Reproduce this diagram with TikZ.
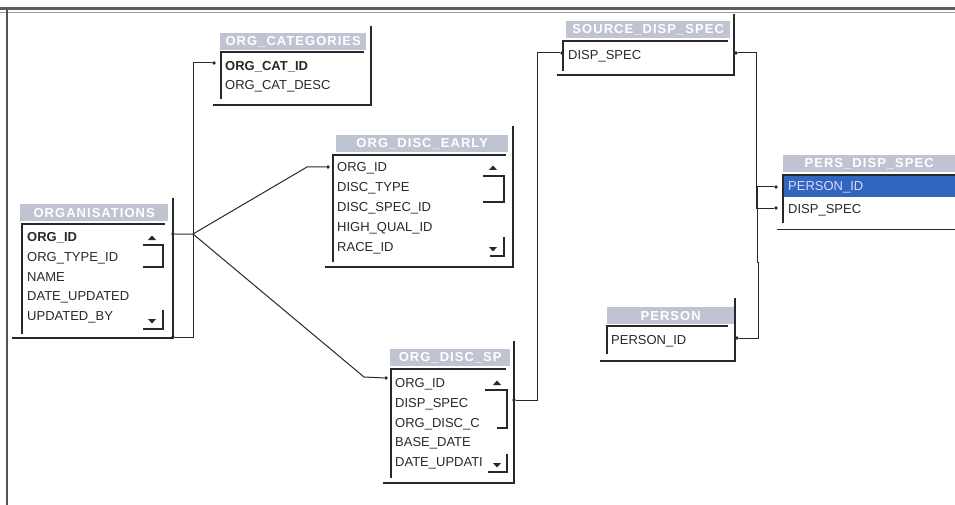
\documentclass[tikz,border=0pt]{standalone}
\usepackage{fontspec}
\setmainfont{Liberation Sans}
\newfontfamily\titlefont[LetterSpace=8]{Liberation Sans}
\definecolor{titlebg}{RGB}{192,196,210}
\definecolor{hilite}{RGB}{50,102,190}
\definecolor{ink}{RGB}{40,40,40}
\begin{document}
\begin{tikzpicture}[x=1pt,y=-1pt,
 titlebar/.style={fill=titlebg, anchor=north west, inner sep=0pt, minimum height=17pt, text=white, font=\titlefont\bfseries\fontsize{13}{13}\selectfont},
 field/.style={anchor=west, inner sep=0pt, text=ink, font=\fontsize{13}{13}\selectfont},
 keyfield/.style={field, font=\bfseries\fontsize{13}{13}\selectfont},
 boxline/.style={draw=ink, line width=1.2pt},
 frameline/.style={draw=ink, line width=1.5pt},
 link/.style={draw=ink, line width=1pt},
 pindot/.style={circle, fill=ink, inner sep=0pt, minimum size=3.6pt},
 sbline/.style={draw=ink, line width=1.1pt},
 sbarrow/.style={fill=ink}
]
\useasboundingbox (0,0) rectangle (955,505);
% outer window frame
\draw[ink!75, line width=2.2pt] (0,8.5) -- (955,8.5);
\draw[ink!45, line width=0.8pt] (0,12) -- (955,12);
\draw[ink!80, line width=1.2pt] (7,9) -- (7,505);

% ---------- ORGANISATIONS ----------
\node[titlebar, minimum width=148] (t-org) at (20,204) {ORGANISATIONS};
\draw[boxline] (22,334) -- (22,224) -- (165,224);
\draw[frameline] (173,198) -- (173,338) -- (12,338);
\node[keyfield] (org-1) at (27,238) {ORG\_ID};
\node[field] (org-2) at (27,258) {ORG\_TYPE\_ID};
\node[field] (org-3) at (27,277) {NAME};
\node[field] (org-4) at (27,297) {DATE\_UPDATED};
\node[field] (org-5) at (27,317) {UPDATED\_BY};
\fill[sbarrow] (148,240) -- (156,240) -- (152,235.5) -- cycle;
\draw[sbline] (143,245) -- (163,245) -- (163,267) -- (143,267);
\fill[sbarrow] (148,319) -- (156,319) -- (152,323.5) -- cycle;
\draw[sbline] (163,310) -- (163,329) -- (143,329);
\node[pindot] (p-org-1) at (173,234) {};
\node[pindot] (p-org-2) at (173,337) {};

% ---------- ORG_CATEGORIES ----------
\node[titlebar, minimum width=146] (t-cat) at (220,33) {ORG\_CATEGORIES};
\draw[boxline] (221,99) -- (221,52) -- (364,52);
\draw[frameline] (371,26) -- (371,105) -- (213,105);
\node[keyfield] (cat-1) at (225,67) {ORG\_CAT\_ID};
\node[field] (cat-2) at (225,86) {ORG\_CAT\_DESC};
\node[pindot] (p-cat-1) at (214,63) {};

% ---------- ORG_DISC_EARLY ----------
\node[titlebar, minimum width=172] (t-de) at (336,135) {ORG\_DISC\_EARLY};
\draw[boxline] (333,262) -- (333,155) -- (506,155);
\draw[frameline] (513,126) -- (513,267) -- (325,267);
\node[field] (de-1) at (337,168) {ORG\_ID};
\node[field] (de-2) at (337,188) {DISC\_TYPE};
\node[field] (de-3) at (337,208) {DISC\_SPEC\_ID};
\node[field] (de-4) at (337,228) {HIGH\_QUAL\_ID};
\node[field] (de-5) at (337,248) {RACE\_ID};
\fill[sbarrow] (489,170) -- (497,170) -- (493,165.5) -- cycle;
\draw[sbline] (483,176) -- (504,176) -- (504,202) -- (483,202);
\fill[sbarrow] (489,247) -- (497,247) -- (493,251.5) -- cycle;
\draw[sbline] (504,237) -- (504,256) -- (490,256);
\node[pindot] (p-de-1) at (328,167) {};

% ---------- ORG_DISC_SP ----------
\node[titlebar, minimum width=120] (t-ds) at (390,349) {ORG\_DISC\_SP};
\draw[boxline] (391,478) -- (391,369) -- (506,369);
\draw[frameline] (514,341) -- (514,483) -- (383,483);
\node[field] (ds-1) at (395,384) {ORG\_ID};
\node[field] (ds-2) at (395,404) {DISP\_SPEC};
\node[field] (ds-3) at (395,424) {ORG\_DISC\_C};
\node[field] (ds-4) at (395,443) {BASE\_DATE};
\node[field] (ds-5) at (395,463) {DATE\_UPDATI};
\fill[sbarrow] (493,385) -- (501,385) -- (497,380.5) -- cycle;
\draw[sbline] (485,390) -- (507,390) -- (507,428) -- (497,428);
\fill[sbarrow] (493,463) -- (501,463) -- (497,467.5) -- cycle;
\draw[sbline] (507,454) -- (507,472) -- (488,472);
\node[pindot] (p-ds-1) at (386,378) {};
\node[pindot] (p-ds-2) at (514,400) {};

% ---------- SOURCE_DISP_SPEC ----------
\node[titlebar, minimum width=164] (t-src) at (566,21) {SOURCE\_DISP\_SPEC};
\draw[boxline] (563,71) -- (563,41) -- (728,41);
\draw[frameline] (734,14) -- (734,75) -- (557,75);
\node[field] (src-1) at (568,56) {DISP\_SPEC};
\node[pindot] (p-src-1) at (562,53) {};
\node[pindot] (p-src-2) at (736,53) {};

% ---------- PERS_DISP_SPEC ----------
\node[titlebar, minimum width=172] (t-pd) at (783,155) {PERS\_DISP\_SPEC};
\fill[hilite] (784,176) rectangle (955,197);
\draw[boxline] (783,223) -- (783,175) -- (955,175);
\draw[frameline] (777,229.5) -- (955,229.5);
\node[field, text=blue!15!white] (pd-1) at (788,187) {PERSON\_ID};
\node[field] (pd-2) at (788,210) {DISP\_SPEC};
\node[pindot] (p-pd-1) at (776,187) {};
\node[pindot] (p-pd-2) at (776,208) {};

% ---------- PERSON ----------
\node[titlebar, minimum width=127] (t-per) at (607,307) {PERSON};
\draw[boxline] (607,354) -- (607,326) -- (728,326);
\draw[frameline] (735,298) -- (735,361) -- (600,361);
\node[field] (per-1) at (611,341) {PERSON\_ID};
\node[pindot] (p-per-1) at (737,338) {};

% ---------- relationships ----------
\draw[link] (p-org-1) -- (193,234) -- (307,167) -- (p-de-1);
\draw[link] (193,234) -- (364,377) -- (p-ds-1);
\draw[link] (p-org-2) -- (193,337) -- (193,63) -- (p-cat-1);
\draw[link] (p-ds-2) -- (537,400) -- (537,53) -- (p-src-1);
\draw[link] (p-src-2) -- (756,53) -- (756,208) -- (p-pd-2);
\draw[link] (p-per-1) -- (758,338) -- (758,262) -- (757,262) -- (757,187) -- (p-pd-1);
\end{tikzpicture}
\end{document}
